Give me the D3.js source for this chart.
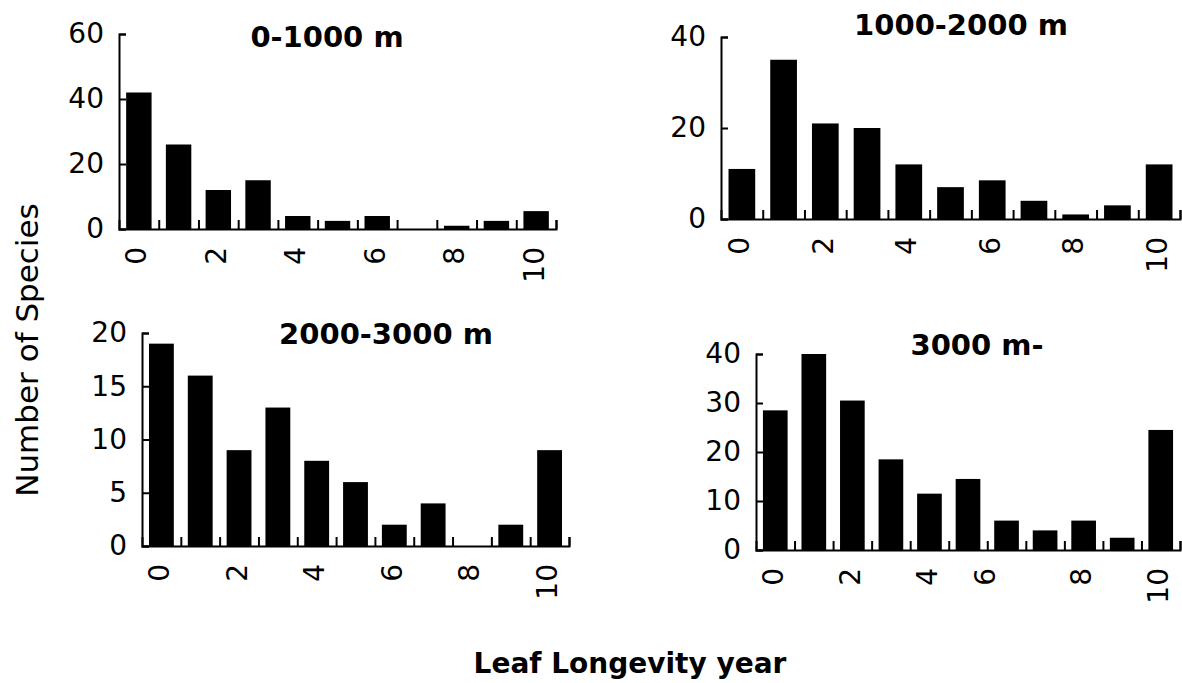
<!DOCTYPE html>
<html>
<head>
<meta charset="utf-8">
<script src="https://cdn.jsdelivr.net/npm/d3@7"></script>
<style>
  html, body { margin: 0; padding: 0; background: #fff; }
  svg { display: block; }
  text { font-family: "DejaVu Sans", sans-serif; fill: #000; }
</style>
</head>
<body>
<svg id="chart" width="1182" height="683"></svg>
<script>
// ---- data ----
const years = [0, 1, 2, 3, 4, 5, 6, 7, 8, 9, 10];
const titles = ["0-1000 m", "1000-2000 m", "2000-3000 m", "3000 m-"];
const counts0to1000 = [42, 26, 12, 15, 4, 2.5, 4, 0, 1, 2.5, 5.5];
const counts1000to2000 = [11, 35, 21, 20, 12, 7, 8.5, 4, 1, 3, 12];
const counts2000to3000 = [19, 16, 9, 13, 8, 6, 2, 4, 0, 2, 9];
const counts3000up = [28.5, 40, 30.5, 18.5, 11.5, 14.5, 6, 4, 6, 2.5, 24.5];
const yMaxes = [60, 40, 20, 40];
const yTicks = [[0, 20, 40, 60], [0, 20, 40], [0, 5, 10, 15, 20], [0, 10, 20, 30, 40]];
const xTickLabels = ["0", "2", "4", "6", "8", "10"];
const xTickPos = [[0, 2, 4, 6, 8, 10], [0, 2, 4, 6, 8, 10], [0, 2, 4, 6, 8, 10], [0, 2, 4, 5.5, 8, 10]];
const yAxisTitle = "Number of Species";
const xAxisTitle = "Leaf Longevity year";

const seriesList = [counts0to1000, counts1000to2000, counts2000to3000, counts3000up];

// ---- layout ----
const layout = [
  { x0: 119, x1: 556, yBase: 229, yTop: 34, tx: 327, ty: 47 },
  { x0: 721, x1: 1180, yBase: 219, yTop: 37, tx: 961, ty: 35 },
  { x0: 142, x1: 569, yBase: 546, yTop: 333, tx: 386, ty: 344 },
  { x0: 756, x1: 1180, yBase: 550, yTop: 354, tx: 977, ty: 355 }
];

const svg = d3.select("#chart");
svg.append("rect").attr("width", 1182).attr("height", 683).attr("fill", "#fff");

seriesList.forEach((vals, p) => {
  const L = layout[p];
  const g = svg.append("g");
  const data = years.map((yr, i) => ({ yr, v: vals[i] }));

  const xBand = d3.scaleBand().domain(years).range([L.x0, L.x1])
    .paddingInner(0.36).paddingOuter(0.18);
  const xLin = d3.scaleLinear().domain([-0.5, years.length - 0.5]).range([L.x0, L.x1]);
  const y = d3.scaleLinear().domain([0, yMaxes[p]]).range([L.yBase, L.yTop]);

  // bars
  g.selectAll("rect.bar").data(data).join("rect")
    .attr("class", "bar")
    .attr("x", d => xBand(d.yr))
    .attr("width", xBand.bandwidth())
    .attr("y", d => y(d.v))
    .attr("height", d => L.yBase - y(d.v))
    .attr("fill", "#000");

  // x axis baseline with upward ticks at slot boundaries
  const bounds = years.map(d => d + 0.5);
  const xAx = g.append("g").attr("transform", `translate(0,${L.yBase})`)
    .call(d3.axisBottom(xLin).tickValues(bounds).tickSize(-9).tickSizeOuter(-9).tickFormat(""));
  xAx.selectAll("path, line").attr("stroke", "#000").attr("stroke-width", 2);

  // x tick labels, rotated
  const xl = g.append("g").attr("transform", `translate(0,${L.yBase})`)
    .call(d3.axisBottom(xLin).tickValues(xTickPos[p]).tickSize(0)
      .tickFormat((d, i) => xTickLabels[i]));
  xl.select(".domain").remove();
  xl.selectAll("text")
    .attr("transform", "rotate(-90)")
    .attr("x", -18).attr("y", 0).attr("dy", "0.25em")
    .attr("text-anchor", "end")
    .style("font-family", "DejaVu Sans")
    .style("font-size", "28px");

  // y axis with inward ticks
  const yAx = g.append("g").attr("transform", `translate(${L.x0},0)`)
    .call(d3.axisLeft(y).tickValues(yTicks[p]).tickSize(-7).tickSizeOuter(-7).tickPadding(15));
  yAx.selectAll("path, line").attr("stroke", "#000").attr("stroke-width", 2);
  yAx.selectAll("text")
    .style("font-family", "DejaVu Sans")
    .style("font-size", "28px");

  // panel title
  g.append("text")
    .attr("x", L.tx).attr("y", L.ty)
    .attr("text-anchor", "middle")
    .style("font-size", "29px").style("font-weight", "bold")
    .text(titles[p]);
});

// shared axis titles
svg.append("text")
  .attr("transform", "translate(27,350) rotate(-90)")
  .attr("text-anchor", "middle").attr("dy", "0.35em")
  .style("font-size", "31px")
  .text(yAxisTitle);

svg.append("text")
  .attr("x", 630).attr("y", 673)
  .attr("text-anchor", "middle")
  .style("font-size", "28px").style("font-weight", "bold")
  .text(xAxisTitle);
</script>
</body>
</html>
